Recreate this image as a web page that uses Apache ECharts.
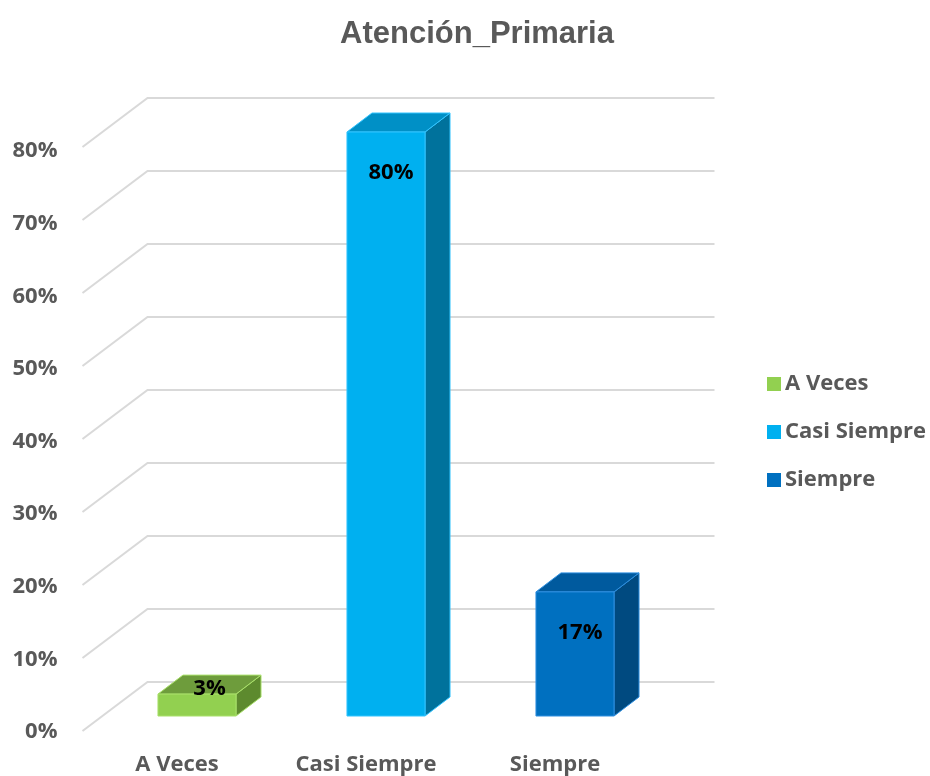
<!DOCTYPE html>
<html>
<head>
<meta charset="utf-8">
<title>Atención_Primaria</title>
<script src="https://cdn.jsdelivr.net/npm/echarts@6/dist/echarts.min.js"></script>
<style>
  html, body { margin: 0; padding: 0; background: #ffffff; }
  #chart { width: 930px; height: 776px; }
</style>
</head>
<body>
<div id="chart"></div>
<script>
// Survey answers and their shares (%)
const categories = ['A Veces', 'Casi Siempre', 'Siempre'];
const values = [3, 80, 17];
const yTicks = [0, 10, 20, 30, 40, 50, 60, 70, 80];

// Face colours per answer: front, top, side
const palette = [
  { front: '#92D050', top: '#6E9C3C', side: '#5D8A2E', edge: '#A9E06A' },
  { front: '#00B0F0', top: '#0090C6', side: '#00729C', edge: '#33C4FF' },
  { front: '#0070C0', top: '#005A9E', side: '#004A80', edge: '#2E8FE0' }
];

// Oblique projection offsets (pixels)
const BAR_DX = 25, BAR_DY = 19;     // depth of each bar
const BACK_DX = 45, BACK_DY = 34;   // bar plane -> back wall
const FRONT_DX = 20, FRONT_DY = 15; // bar plane -> front edge of floor
const BAR_RATIO = 0.413;            // bar width as a share of the band

const labelFont = '"Open Sans", "DejaVu Sans", sans-serif';
const LABEL_SIZE = 22;

const chart = echarts.init(document.getElementById('chart'), null, { renderer: 'canvas' });

// Perspective gridlines: front diagonal up to the back wall, then across it
function renderGrid(params, api) {
  const v = api.value(0);
  const y = api.coord([0, v])[1];
  const cs = params.coordSys;
  const left = cs.x, right = cs.x + cs.width;
  return {
    type: 'polyline',
    shape: {
      points: [
        [left - FRONT_DX, y + FRONT_DY],
        [left + BACK_DX, y - BACK_DY],
        [right + BACK_DX, y - BACK_DY]
      ]
    },
    style: { stroke: '#D9D9D9', lineWidth: 2, fill: null },
    silent: true
  };
}

// 3D box for one bar, drawn from the axis scales
function makeBarRenderer(colors) {
  return function (params, api) {
    const idx = api.value(0);
    const v = api.value(1);
    const base = api.coord([idx, 0]);
    const top = api.coord([idx, v]);
    const bw = api.size([1, 0])[0] * BAR_RATIO;
    const x0 = base[0] - bw / 2, x1 = x0 + bw;
    const yt = top[1], yb = base[1];
    const h = yb - yt;

    const children = [
      {
        type: 'polygon',
        shape: { points: [[x1, yt], [x1 + BAR_DX, yt - BAR_DY], [x1 + BAR_DX, yb - BAR_DY], [x1, yb]] },
        style: { fill: colors.side, stroke: colors.edge, lineWidth: 1 }
      },
      {
        type: 'polygon',
        shape: { points: [[x0, yt], [x1, yt], [x1 + BAR_DX, yt - BAR_DY], [x0 + BAR_DX, yt - BAR_DY]] },
        style: { fill: colors.top, stroke: colors.edge, lineWidth: 1 }
      },
      {
        type: 'rect',
        shape: { x: x0, y: yt, width: bw, height: h },
        style: { fill: colors.front, stroke: colors.edge, lineWidth: 1 }
      }
    ];

    // Value label: inside the front face for tall bars, on the top face for short ones
    let lx, ly;
    if (h > 50) {
      lx = x0 + bw / 2 + 5;
      ly = yt + 41;
    } else {
      lx = x0 + bw / 2 + BAR_DX / 2;
      ly = yt - BAR_DY / 2 + 4;
    }
    children.push({
      type: 'text',
      style: {
        x: lx, y: ly,
        text: v + '%',
        fill: '#000000',
        font: 'bold ' + LABEL_SIZE + 'px ' + labelFont,
        align: 'center',
        verticalAlign: 'middle'
      },
      z2: 10
    });

    return { type: 'group', children: children };
  };
}

const barSeries = categories.map(function (name, i) {
  return {
    type: 'custom',
    name: name,
    xAxisIndex: 0,
    yAxisIndex: 0,
    z: 3,
    itemStyle: { color: palette[i].front },
    renderItem: makeBarRenderer(palette[i]),
    data: [[i, values[i]]]
  };
});

const option = {
  backgroundColor: '#ffffff',
  animation: false,
  title: {
    text: 'Atención_Primaria',
    left: 472,
    textAlign: 'center',
    top: 14,
    textStyle: {
      fontFamily: '"Liberation Sans", Arial, sans-serif',
      fontSize: 31,
      fontWeight: 'bold',
      color: '#595959'
    }
  },
  legend: {
    orient: 'vertical',
    left: 762,
    top: 368,
    itemWidth: 14,
    itemHeight: 14,
    itemGap: 26,
    icon: 'rect',
    data: categories,
    textStyle: {
      fontFamily: labelFont,
      fontSize: LABEL_SIZE,
      fontWeight: 'bold',
      color: '#595959',
      padding: [0, 0, 0, -1]
    }
  },
  grid: [
    // bar plane
    { left: 102.5, top: 132, width: 567, height: 584 },
    // front edge of the floor, carries the axis labels (nudged down to sit the glyphs on the lines)
    { left: 82.5, top: 151, width: 567, height: 584 }
  ],
  xAxis: [
    {
      gridIndex: 0, type: 'category', data: categories,
      axisLine: { show: false }, axisTick: { show: false }, axisLabel: { show: false },
      splitLine: { show: false }
    },
    {
      gridIndex: 1, type: 'category', data: categories,
      axisLine: { show: false }, axisTick: { show: false }, splitLine: { show: false },
      axisLabel: {
        margin: 22,
        fontFamily: labelFont, fontSize: LABEL_SIZE, fontWeight: 'bold', color: '#595959'
      }
    }
  ],
  yAxis: [
    {
      gridIndex: 0, type: 'value', min: 0, max: 80, interval: 10,
      axisLine: { show: false }, axisTick: { show: false }, axisLabel: { show: false },
      splitLine: { show: false }
    },
    {
      gridIndex: 1, type: 'value', min: 0, max: 80, interval: 10,
      axisLine: { show: false }, axisTick: { show: false }, splitLine: { show: false },
      axisLabel: {
        margin: 25,
        formatter: '{value}%',
        fontFamily: labelFont, fontSize: LABEL_SIZE, fontWeight: 'bold', color: '#595959'
      }
    }
  ],
  series: [
    {
      type: 'custom',
      name: 'grid',
      xAxisIndex: 0,
      yAxisIndex: 0,
      z: 1,
      silent: true,
      renderItem: renderGrid,
      data: yTicks.map(function (t) { return [t]; })
    }
  ].concat(barSeries)
};

chart.setOption(option);
</script>
</body>
</html>
